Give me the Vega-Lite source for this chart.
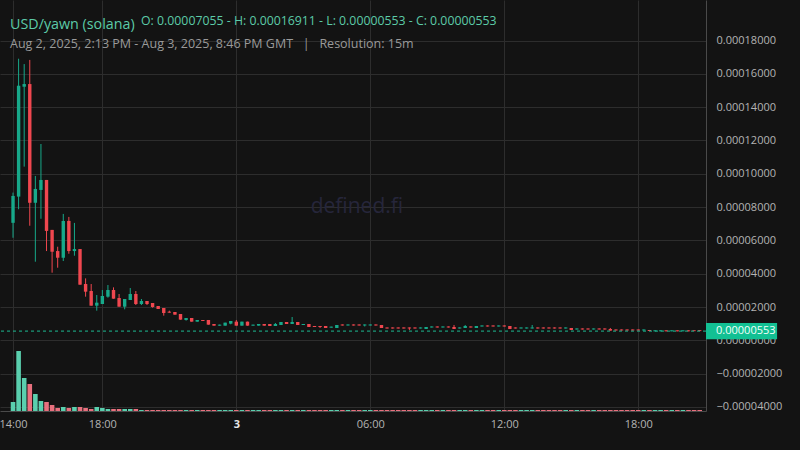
{
  "$schema": "https://vega.github.io/schema/vega-lite/v6.json",
  "width": 706,
  "height": 411,
  "autosize": {"type": "none"},
  "padding": {"left": 0, "top": 0, "right": 94, "bottom": 39},
  "background": "#131313",
  "config": {
    "view": {"stroke": null},
    "font": "Open Sans",
    "axis": {"labelFont": "Open Sans", "gridColor": "#2d2d2d", "domainColor": "#4a4a4a", "ticks": false, "labelColor": "#b4b4b4", "labelFontSize": 11, "title": null}
  },
  "title": {
    "text": "USD/yawn (solana)",
    "subtitle": "Aug 2, 2025, 2:13 PM - Aug 3, 2025, 8:46 PM GMT \u00a0\u00a0|\u00a0\u00a0 Resolution: 15m",
    "anchor": "start",
    "frame": "group",
    "dx": 10,
    "offset": -50,
    "font": "Open Sans",
    "fontSize": 14.3,
    "fontWeight": "normal",
    "color": "#5ccba8",
    "subtitleFont": "Open Sans",
    "subtitleFontSize": 12.5,
    "subtitleColor": "#9a9a9a",
    "subtitlePadding": 5
  },
  "datasets": {
    "candles": [
      {"t": "2025-08-02T14:00:00Z", "o": 7.055e-5, "h": 8.87e-5, "l": 6.16e-5, "c": 8.67e-5, "v": 900},
      {"t": "2025-08-02T14:15:00Z", "o": 8.63e-5, "h": 1.6911e-4, "l": 7.87e-5, "c": 1.529e-4, "v": 6000},
      {"t": "2025-08-02T14:30:00Z", "o": 1.523e-4, "h": 1.659e-4, "l": 1.043e-4, "c": 1.539e-4, "v": 3300},
      {"t": "2025-08-02T14:45:00Z", "o": 1.539e-4, "h": 1.684e-4, "l": 6.88e-5, "c": 8.26e-5, "v": 2700},
      {"t": "2025-08-02T15:00:00Z", "o": 8.26e-5, "h": 9.87e-5, "l": 4.72e-5, "c": 9.09e-5, "v": 1700},
      {"t": "2025-08-02T15:15:00Z", "o": 9.03e-5, "h": 1.179e-4, "l": 7.30e-5, "c": 9.63e-5, "v": 1000},
      {"t": "2025-08-02T15:30:00Z", "o": 9.63e-5, "h": 9.63e-5, "l": 5.36e-5, "c": 6.57e-5, "v": 900},
      {"t": "2025-08-02T15:45:00Z", "o": 6.63e-5, "h": 6.63e-5, "l": 4.06e-5, "c": 5.32e-5, "v": 600},
      {"t": "2025-08-02T16:00:00Z", "o": 5.36e-5, "h": 5.62e-5, "l": 4.36e-5, "c": 4.96e-5, "v": 300},
      {"t": "2025-08-02T16:15:00Z", "o": 4.96e-5, "h": 7.59e-5, "l": 4.76e-5, "c": 7.17e-5, "v": 400},
      {"t": "2025-08-02T16:30:00Z", "o": 7.17e-5, "h": 7.41e-5, "l": 5.20e-5, "c": 5.36e-5, "v": 300},
      {"t": "2025-08-02T16:45:00Z", "o": 5.36e-5, "h": 7.05e-5, "l": 5.08e-5, "c": 5.48e-5, "v": 400},
      {"t": "2025-08-02T17:00:00Z", "o": 5.48e-5, "h": 5.48e-5, "l": 3.34e-5, "c": 3.34e-5, "v": 400},
      {"t": "2025-08-02T17:15:00Z", "o": 3.38e-5, "h": 3.72e-5, "l": 2.62e-5, "c": 2.92e-5, "v": 300},
      {"t": "2025-08-02T17:30:00Z", "o": 2.96e-5, "h": 3.38e-5, "l": 2.08e-5, "c": 2.08e-5, "v": 200},
      {"t": "2025-08-02T17:45:00Z", "o": 2.08e-5, "h": 2.72e-5, "l": 1.78e-5, "c": 2.26e-5, "v": 400},
      {"t": "2025-08-02T18:00:00Z", "o": 2.18e-5, "h": 3.02e-5, "l": 2.18e-5, "c": 2.66e-5, "v": 300},
      {"t": "2025-08-02T18:15:00Z", "o": 2.62e-5, "h": 3.32e-5, "l": 2.56e-5, "c": 3.02e-5, "v": 200},
      {"t": "2025-08-02T18:30:00Z", "o": 3.02e-5, "h": 3.18e-5, "l": 2.50e-5, "c": 2.50e-5, "v": 200},
      {"t": "2025-08-02T18:45:00Z", "o": 2.54e-5, "h": 2.78e-5, "l": 2.02e-5, "c": 2.02e-5, "v": 200},
      {"t": "2025-08-02T19:00:00Z", "o": 2.02e-5, "h": 2.48e-5, "l": 1.86e-5, "c": 2.48e-5, "v": 200},
      {"t": "2025-08-02T19:15:00Z", "o": 2.42e-5, "h": 3.14e-5, "l": 2.42e-5, "c": 2.78e-5, "v": 200},
      {"t": "2025-08-02T19:30:00Z", "o": 2.78e-5, "h": 2.96e-5, "l": 2.12e-5, "c": 2.18e-5, "v": 200},
      {"t": "2025-08-02T19:45:00Z", "o": 2.18e-5, "h": 2.48e-5, "l": 2.12e-5, "c": 2.36e-5, "v": 100},
      {"t": "2025-08-02T20:00:00Z", "o": 2.36e-5, "h": 2.36e-5, "l": 2.12e-5, "c": 2.18e-5, "v": 100},
      {"t": "2025-08-02T20:15:00Z", "o": 2.24e-5, "h": 2.24e-5, "l": 1.96e-5, "c": 2.00e-5, "v": 100},
      {"t": "2025-08-02T20:30:00Z", "o": 2.06e-5, "h": 2.06e-5, "l": 1.88e-5, "c": 1.88e-5, "v": 100},
      {"t": "2025-08-02T20:45:00Z", "o": 1.94e-5, "h": 1.94e-5, "l": 1.48e-5, "c": 1.64e-5, "v": 100},
      {"t": "2025-08-02T21:00:00Z", "o": 1.72e-5, "h": 1.78e-5, "l": 1.66e-5, "c": 1.66e-5, "v": 100},
      {"t": "2025-08-02T21:15:00Z", "o": 1.70e-5, "h": 1.70e-5, "l": 1.54e-5, "c": 1.54e-5, "v": 100},
      {"t": "2025-08-02T21:30:00Z", "o": 1.58e-5, "h": 1.58e-5, "l": 1.24e-5, "c": 1.24e-5, "v": 100},
      {"t": "2025-08-02T21:45:00Z", "o": 1.22e-5, "h": 1.34e-5, "l": 1.18e-5, "c": 1.34e-5, "v": 100},
      {"t": "2025-08-02T22:00:00Z", "o": 1.34e-5, "h": 1.34e-5, "l": 1.12e-5, "c": 1.12e-5, "v": 100},
      {"t": "2025-08-02T22:15:00Z", "o": 1.12e-5, "h": 1.22e-5, "l": 1.12e-5, "c": 1.22e-5, "v": 100},
      {"t": "2025-08-02T22:30:00Z", "o": 1.22e-5, "h": 1.22e-5, "l": 1.16e-5, "c": 1.16e-5, "v": 100},
      {"t": "2025-08-02T22:45:00Z", "o": 1.22e-5, "h": 1.22e-5, "l": 9.4e-6, "c": 9.4e-6, "v": 100},
      {"t": "2025-08-02T23:00:00Z", "o": 9.8e-6, "h": 9.8e-6, "l": 8.8e-6, "c": 8.8e-6, "v": 100},
      {"t": "2025-08-02T23:15:00Z", "o": 8.8e-6, "h": 9.4e-6, "l": 8.8e-6, "c": 9.4e-6, "v": 100},
      {"t": "2025-08-02T23:30:00Z", "o": 8.8e-6, "h": 1.06e-5, "l": 8.8e-6, "c": 1.06e-5, "v": 100},
      {"t": "2025-08-02T23:45:00Z", "o": 1.0e-5, "h": 1.16e-5, "l": 9.6e-6, "c": 1.16e-5, "v": 100},
      {"t": "2025-08-03T00:00:00Z", "o": 1.12e-5, "h": 1.22e-5, "l": 8.8e-6, "c": 8.8e-6, "v": 100},
      {"t": "2025-08-03T00:15:00Z", "o": 8.8e-6, "h": 1.12e-5, "l": 8.8e-6, "c": 1.12e-5, "v": 100},
      {"t": "2025-08-03T00:30:00Z", "o": 1.12e-5, "h": 1.12e-5, "l": 8.8e-6, "c": 8.8e-6, "v": 100},
      {"t": "2025-08-03T00:45:00Z", "o": 8.8e-6, "h": 9.4e-6, "l": 8.8e-6, "c": 9.4e-6, "v": 100},
      {"t": "2025-08-03T01:00:00Z", "o": 8.8e-6, "h": 9.8e-6, "l": 8.8e-6, "c": 9.8e-6, "v": 100},
      {"t": "2025-08-03T01:15:00Z", "o": 9.8e-6, "h": 9.8e-6, "l": 8.8e-6, "c": 8.8e-6, "v": 100},
      {"t": "2025-08-03T01:30:00Z", "o": 9.8e-6, "h": 9.8e-6, "l": 8.6e-6, "c": 8.6e-6, "v": 100},
      {"t": "2025-08-03T01:45:00Z", "o": 8.6e-6, "h": 1.04e-5, "l": 8.6e-6, "c": 9.8e-6, "v": 100},
      {"t": "2025-08-03T02:00:00Z", "o": 9.2e-6, "h": 1.1e-5, "l": 9.2e-6, "c": 1.1e-5, "v": 100},
      {"t": "2025-08-03T02:15:00Z", "o": 1.1e-5, "h": 1.1e-5, "l": 9.8e-6, "c": 9.8e-6, "v": 100},
      {"t": "2025-08-03T02:30:00Z", "o": 9.8e-6, "h": 1.4e-5, "l": 9.8e-6, "c": 1.1e-5, "v": 100},
      {"t": "2025-08-03T02:45:00Z", "o": 1.1e-5, "h": 1.1e-5, "l": 9.2e-6, "c": 9.2e-6, "v": 100},
      {"t": "2025-08-03T03:00:00Z", "o": 9.2e-6, "h": 9.8e-6, "l": 9.2e-6, "c": 9.8e-6, "v": 100},
      {"t": "2025-08-03T03:15:00Z", "o": 9.8e-6, "h": 9.8e-6, "l": 8.0e-6, "c": 8.0e-6, "v": 100},
      {"t": "2025-08-03T03:30:00Z", "o": 8.6e-6, "h": 8.6e-6, "l": 8.0e-6, "c": 8.0e-6, "v": 100},
      {"t": "2025-08-03T03:45:00Z", "o": 8.6e-6, "h": 8.6e-6, "l": 7.4e-6, "c": 8.0e-6, "v": 100},
      {"t": "2025-08-03T04:00:00Z", "o": 8.6e-6, "h": 8.6e-6, "l": 7.4e-6, "c": 7.4e-6, "v": 100},
      {"t": "2025-08-03T04:15:00Z", "o": 7.6e-6, "h": 8.2e-6, "l": 7.6e-6, "c": 8.2e-6, "v": 100},
      {"t": "2025-08-03T04:30:00Z", "o": 7.4e-6, "h": 9.2e-6, "l": 7.4e-6, "c": 9.2e-6, "v": 100},
      {"t": "2025-08-03T04:45:00Z", "o": 9.5e-6, "h": 9.5e-6, "l": 8.9e-6, "c": 8.9e-6, "v": 100},
      {"t": "2025-08-03T05:00:00Z", "o": 8.9e-6, "h": 9.5e-6, "l": 8.9e-6, "c": 9.5e-6, "v": 100},
      {"t": "2025-08-03T05:15:00Z", "o": 9.5e-6, "h": 9.5e-6, "l": 8.9e-6, "c": 8.9e-6, "v": 100},
      {"t": "2025-08-03T05:30:00Z", "o": 9.5e-6, "h": 9.5e-6, "l": 8.9e-6, "c": 8.9e-6, "v": 100},
      {"t": "2025-08-03T05:45:00Z", "o": 8.9e-6, "h": 9.5e-6, "l": 8.3e-6, "c": 9.5e-6, "v": 100},
      {"t": "2025-08-03T06:00:00Z", "o": 8.9e-6, "h": 9.5e-6, "l": 8.9e-6, "c": 9.5e-6, "v": 100},
      {"t": "2025-08-03T06:15:00Z", "o": 9.5e-6, "h": 9.5e-6, "l": 8.9e-6, "c": 8.9e-6, "v": 100},
      {"t": "2025-08-03T06:30:00Z", "o": 9.2e-6, "h": 9.2e-6, "l": 7.4e-6, "c": 7.4e-6, "v": 100},
      {"t": "2025-08-03T06:45:00Z", "o": 7.7e-6, "h": 7.7e-6, "l": 7.1e-6, "c": 7.1e-6, "v": 100},
      {"t": "2025-08-03T07:00:00Z", "o": 7.7e-6, "h": 7.7e-6, "l": 7.1e-6, "c": 7.1e-6, "v": 100},
      {"t": "2025-08-03T07:15:00Z", "o": 7.7e-6, "h": 7.7e-6, "l": 7.1e-6, "c": 7.1e-6, "v": 100},
      {"t": "2025-08-03T07:30:00Z", "o": 7.7e-6, "h": 7.7e-6, "l": 7.1e-6, "c": 7.1e-6, "v": 100},
      {"t": "2025-08-03T07:45:00Z", "o": 7.7e-6, "h": 7.7e-6, "l": 6.2e-6, "c": 7.1e-6, "v": 100},
      {"t": "2025-08-03T08:00:00Z", "o": 7.7e-6, "h": 7.7e-6, "l": 7.1e-6, "c": 7.1e-6, "v": 100},
      {"t": "2025-08-03T08:15:00Z", "o": 7.1e-6, "h": 7.7e-6, "l": 7.1e-6, "c": 7.7e-6, "v": 100},
      {"t": "2025-08-03T08:30:00Z", "o": 6.8e-6, "h": 8.0e-6, "l": 6.8e-6, "c": 8.0e-6, "v": 100},
      {"t": "2025-08-03T08:45:00Z", "o": 7.7e-6, "h": 8.3e-6, "l": 7.7e-6, "c": 8.3e-6, "v": 100},
      {"t": "2025-08-03T09:00:00Z", "o": 8.3e-6, "h": 8.3e-6, "l": 7.7e-6, "c": 7.7e-6, "v": 100},
      {"t": "2025-08-03T09:15:00Z", "o": 7.7e-6, "h": 8.3e-6, "l": 7.7e-6, "c": 8.3e-6, "v": 100},
      {"t": "2025-08-03T09:30:00Z", "o": 8.3e-6, "h": 8.3e-6, "l": 7.7e-6, "c": 7.7e-6, "v": 100},
      {"t": "2025-08-03T09:45:00Z", "o": 8.0e-6, "h": 9.2e-6, "l": 6.8e-6, "c": 6.8e-6, "v": 100},
      {"t": "2025-08-03T10:00:00Z", "o": 7.1e-6, "h": 7.7e-6, "l": 7.1e-6, "c": 7.7e-6, "v": 100},
      {"t": "2025-08-03T10:15:00Z", "o": 7.4e-6, "h": 9.2e-6, "l": 7.4e-6, "c": 8.6e-6, "v": 100},
      {"t": "2025-08-03T10:30:00Z", "o": 8.3e-6, "h": 8.3e-6, "l": 7.7e-6, "c": 7.7e-6, "v": 100},
      {"t": "2025-08-03T10:45:00Z", "o": 7.4e-6, "h": 8.6e-6, "l": 7.4e-6, "c": 8.6e-6, "v": 100},
      {"t": "2025-08-03T11:00:00Z", "o": 8.3e-6, "h": 8.9e-6, "l": 8.3e-6, "c": 8.9e-6, "v": 100},
      {"t": "2025-08-03T11:15:00Z", "o": 8.9e-6, "h": 8.9e-6, "l": 8.3e-6, "c": 8.3e-6, "v": 100},
      {"t": "2025-08-03T11:30:00Z", "o": 8.9e-6, "h": 8.9e-6, "l": 8.3e-6, "c": 8.3e-6, "v": 100},
      {"t": "2025-08-03T11:45:00Z", "o": 8.3e-6, "h": 8.9e-6, "l": 8.3e-6, "c": 8.9e-6, "v": 100},
      {"t": "2025-08-03T12:00:00Z", "o": 8.9e-6, "h": 8.9e-6, "l": 8.3e-6, "c": 8.3e-6, "v": 100},
      {"t": "2025-08-03T12:15:00Z", "o": 8.6e-6, "h": 8.6e-6, "l": 6.8e-6, "c": 6.8e-6, "v": 100},
      {"t": "2025-08-03T12:30:00Z", "o": 7.7e-6, "h": 7.7e-6, "l": 7.1e-6, "c": 7.1e-6, "v": 100},
      {"t": "2025-08-03T12:45:00Z", "o": 7.1e-6, "h": 7.7e-6, "l": 7.1e-6, "c": 7.7e-6, "v": 100},
      {"t": "2025-08-03T13:00:00Z", "o": 7.1e-6, "h": 7.7e-6, "l": 7.1e-6, "c": 7.7e-6, "v": 100},
      {"t": "2025-08-03T13:15:00Z", "o": 7.1e-6, "h": 9.2e-6, "l": 7.1e-6, "c": 7.7e-6, "v": 100},
      {"t": "2025-08-03T13:30:00Z", "o": 7.7e-6, "h": 7.7e-6, "l": 7.1e-6, "c": 7.1e-6, "v": 100},
      {"t": "2025-08-03T13:45:00Z", "o": 7.7e-6, "h": 7.7e-6, "l": 7.1e-6, "c": 7.1e-6, "v": 100},
      {"t": "2025-08-03T14:00:00Z", "o": 7.7e-6, "h": 7.7e-6, "l": 7.1e-6, "c": 7.1e-6, "v": 100},
      {"t": "2025-08-03T14:15:00Z", "o": 7.7e-6, "h": 7.7e-6, "l": 7.1e-6, "c": 7.1e-6, "v": 100},
      {"t": "2025-08-03T14:30:00Z", "o": 7.7e-6, "h": 7.7e-6, "l": 7.1e-6, "c": 7.1e-6, "v": 100},
      {"t": "2025-08-03T14:45:00Z", "o": 7.1e-6, "h": 7.7e-6, "l": 7.1e-6, "c": 7.7e-6, "v": 100},
      {"t": "2025-08-03T15:00:00Z", "o": 7.4e-6, "h": 7.4e-6, "l": 6.2e-6, "c": 6.2e-6, "v": 100},
      {"t": "2025-08-03T15:15:00Z", "o": 6.5e-6, "h": 7.1e-6, "l": 6.5e-6, "c": 7.1e-6, "v": 100},
      {"t": "2025-08-03T15:30:00Z", "o": 7.1e-6, "h": 7.1e-6, "l": 6.5e-6, "c": 6.5e-6, "v": 100},
      {"t": "2025-08-03T15:45:00Z", "o": 7.1e-6, "h": 7.1e-6, "l": 6.5e-6, "c": 6.5e-6, "v": 100},
      {"t": "2025-08-03T16:00:00Z", "o": 6.5e-6, "h": 7.1e-6, "l": 6.5e-6, "c": 7.1e-6, "v": 100},
      {"t": "2025-08-03T16:15:00Z", "o": 7.1e-6, "h": 7.1e-6, "l": 6.5e-6, "c": 6.5e-6, "v": 100},
      {"t": "2025-08-03T16:30:00Z", "o": 7.1e-6, "h": 7.1e-6, "l": 6.5e-6, "c": 6.5e-6, "v": 100},
      {"t": "2025-08-03T16:45:00Z", "o": 6.8e-6, "h": 7.4e-6, "l": 5.8e-6, "c": 5.8e-6, "v": 100},
      {"t": "2025-08-03T17:00:00Z", "o": 6.5e-6, "h": 6.5e-6, "l": 5.9e-6, "c": 5.9e-6, "v": 100},
      {"t": "2025-08-03T17:15:00Z", "o": 6.5e-6, "h": 6.5e-6, "l": 5.9e-6, "c": 5.9e-6, "v": 100},
      {"t": "2025-08-03T17:30:00Z", "o": 6.5e-6, "h": 6.5e-6, "l": 5.9e-6, "c": 5.9e-6, "v": 100},
      {"t": "2025-08-03T17:45:00Z", "o": 6.5e-6, "h": 6.5e-6, "l": 5.9e-6, "c": 5.9e-6, "v": 100},
      {"t": "2025-08-03T18:00:00Z", "o": 6.5e-6, "h": 6.5e-6, "l": 5.9e-6, "c": 5.9e-6, "v": 100},
      {"t": "2025-08-03T18:15:00Z", "o": 5.9e-6, "h": 6.5e-6, "l": 5.9e-6, "c": 6.5e-6, "v": 100},
      {"t": "2025-08-03T18:30:00Z", "o": 6.2e-6, "h": 6.2e-6, "l": 5.6e-6, "c": 5.6e-6, "v": 100},
      {"t": "2025-08-03T18:45:00Z", "o": 5.4e-6, "h": 6.0e-6, "l": 5.4e-6, "c": 6.0e-6, "v": 100},
      {"t": "2025-08-03T19:00:00Z", "o": 5.4e-6, "h": 6.0e-6, "l": 5.4e-6, "c": 6.0e-6, "v": 100},
      {"t": "2025-08-03T19:15:00Z", "o": 6.0e-6, "h": 6.0e-6, "l": 5.4e-6, "c": 5.4e-6, "v": 100},
      {"t": "2025-08-03T19:30:00Z", "o": 5.4e-6, "h": 6.0e-6, "l": 5.4e-6, "c": 6.0e-6, "v": 100},
      {"t": "2025-08-03T19:45:00Z", "o": 6.0e-6, "h": 6.0e-6, "l": 5.4e-6, "c": 5.4e-6, "v": 100},
      {"t": "2025-08-03T20:00:00Z", "o": 5.4e-6, "h": 6.0e-6, "l": 5.4e-6, "c": 6.0e-6, "v": 100},
      {"t": "2025-08-03T20:15:00Z", "o": 6.0e-6, "h": 6.0e-6, "l": 5.4e-6, "c": 5.4e-6, "v": 100},
      {"t": "2025-08-03T20:30:00Z", "o": 6.0e-6, "h": 6.0e-6, "l": 5.5e-6, "c": 5.5e-6, "v": 100},
      {"t": "2025-08-03T20:45:00Z", "o": 6.1e-6, "h": 6.1e-6, "l": 5.53e-6, "c": 5.53e-6, "v": 100}
    ]
  },
  "layer": [
    {
      "layer": [
        {
          "data": {"name": "candles"},
          "mark": {"type": "rule", "strokeWidth": 1},
          "encoding": {
            "x": {
              "field": "t",
              "type": "temporal",
              "scale": {
                "type": "utc",
                "nice": false,
                "padding": 0,
                "domain": [
                  {"year": 2025, "month": 8, "date": 2, "hours": 13, "minutes": 25, "utc": true},
                  {"year": 2025, "month": 8, "date": 3, "hours": 21, "minutes": 2, "utc": true}
                ]
              },
              "axis": {
                "values": [
                  {"year": 2025, "month": 8, "date": 2, "hours": 14, "utc": true},
                  {"year": 2025, "month": 8, "date": 2, "hours": 18, "utc": true},
                  {"year": 2025, "month": 8, "date": 3, "hours": 0, "utc": true},
                  {"year": 2025, "month": 8, "date": 3, "hours": 6, "utc": true},
                  {"year": 2025, "month": 8, "date": 3, "hours": 12, "utc": true},
                  {"year": 2025, "month": 8, "date": 3, "hours": 18, "utc": true}
                ],
                "tickCount": 20,
                "labelExpr": "utchours(datum.value) == 0 ? utcFormat(datum.value, '%-d') : utcFormat(datum.value, '%H:%M')",
                "labelFontWeight": {"condition": {"test": "utchours(datum.value) == 0", "value": "bold"}, "value": "normal"},
                "labelColor": {"condition": {"test": "utchours(datum.value) == 0", "value": "#e6e6e6"}, "value": "#b4b4b4"},
                "labelPadding": 7,
                "labelFlush": false,
                "labelOverlap": false,
                "labelBound": false,
                "grid": true
              }
            },
            "y": {
              "field": "l",
              "type": "quantitative",
              "scale": {"domain": [-0.00004246, 0.00020438], "nice": false, "zero": false},
              "axis": {
                "orient": "right",
                "values": [-0.00004, -0.00002, 0, 0.00002, 0.00004, 0.00006, 0.00008, 0.0001, 0.00012, 0.00014, 0.00016, 0.00018],
                "tickCount": 20,
                "format": ".8f",
                "labelPadding": 10,
                "labelOverlap": false,
                "grid": true
              }
            },
            "y2": {"field": "h"},
            "color": {"condition": {"test": "datum.c >= datum.o", "value": "#17a98a"}, "value": "#f0474f"}
          }
        },
        {
          "data": {"name": "candles"},
          "mark": {"type": "bar", "size": 3.4},
          "encoding": {
            "x": {"field": "t", "type": "temporal"},
            "y": {"field": "o", "type": "quantitative"},
            "y2": {"field": "c"},
            "color": {"condition": {"test": "datum.c >= datum.o", "value": "#17a98a"}, "value": "#f0474f"}
          }
        },
        {
          "data": {"values": [{"label": "defined.fi"}]},
          "mark": {"type": "text", "font": "Open Sans", "fontSize": 21, "color": "#26263b", "align": "center", "baseline": "middle"},
          "encoding": {
            "x": {"datum": {"year": 2025, "month": 8, "date": 3, "hours": 5, "minutes": 24, "utc": true}, "type": "temporal"},
            "y": {"datum": 0.00008},
            "text": {"field": "label"}
          }
        },
        {
          "data": {"values": [{"price": 0.00000553}]},
          "mark": {"type": "rule", "color": "#1dbb92", "strokeDash": [3, 3], "strokeWidth": 1},
          "encoding": {"y": {"field": "price", "type": "quantitative"}}
        },
        {
          "data": {"values": [{"label": "O: 0.00007055 - H: 0.00016911 - L: 0.00000553 - C: 0.00000553"}]},
          "mark": {"type": "text", "font": "Open Sans", "fontSize": 12.3, "color": "#5ccba8", "align": "left", "baseline": "alphabetic"},
          "encoding": {
            "x": {"datum": {"year": 2025, "month": 8, "date": 2, "hours": 19, "minutes": 44, "utc": true}, "type": "temporal"},
            "y": {"datum": 0.0001894},
            "text": {"field": "label"}
          }
        },
        {
          "data": {"values": [{"price": 0.00000553}]},
          "mark": {"type": "rect", "color": "#12c093"},
          "encoding": {
            "x": {"datum": {"year": 2025, "month": 8, "date": 3, "hours": 21, "minutes": 2, "utc": true}, "type": "temporal"},
            "x2": {"datum": {"year": 2025, "month": 8, "date": 4, "hours": 0, "minutes": 13, "utc": true}},
            "y": {"datum": 0.00001039},
            "y2": {"datum": 0.0000006}
          }
        },
        {
          "data": {"values": [{"price": 0.00000553}]},
          "mark": {"type": "text", "font": "Open Sans", "fontSize": 11, "color": "#f2fffa", "align": "left", "baseline": "middle"},
          "encoding": {
            "x": {"datum": {"year": 2025, "month": 8, "date": 3, "hours": 21, "minutes": 29, "utc": true}, "type": "temporal"},
            "y": {"field": "price", "type": "quantitative"},
            "text": {"field": "price", "type": "quantitative", "format": ".8f"}
          }
        }
      ]
    },
    {
      "data": {"name": "candles"},
      "mark": {"type": "bar", "size": 4.6},
      "encoding": {
        "x": {"field": "t", "type": "temporal"},
        "y": {"field": "v", "type": "quantitative", "scale": {"domain": [0, 41100], "nice": false}, "axis": null},
        "color": {"condition": {"test": "datum.c >= datum.o", "value": "#5acfae"}, "value": "#e8707e"}
      }
    }
  ],
  "resolve": {"scale": {"y": "independent"}}
}
